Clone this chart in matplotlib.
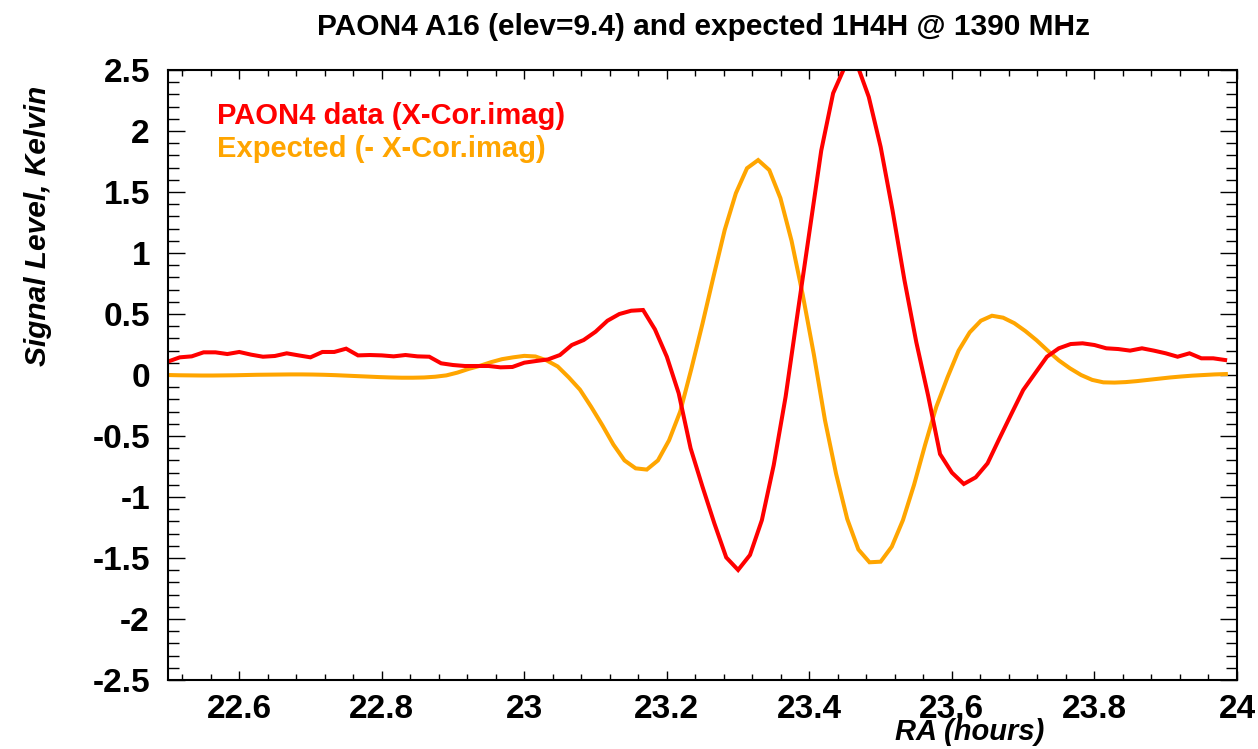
import numpy as np
import matplotlib
matplotlib.use("Agg")
import matplotlib.pyplot as plt
from matplotlib.ticker import MultipleLocator

plt.rcParams['font.family'] = ['Liberation Sans', 'DejaVu Sans']

# RA sampling (hours)
ra_start = 22.5
data_step = 1.0 / 60.0     # measured data: one sample per minute
model_step = 1.0 / 64.0    # expected signal grid

# PAON4 measured cross-correlation (imaginary part), Kelvin
paon4_imag = [
    0.11, 0.145, 0.153, 0.186, 0.186, 0.172, 0.189, 0.167, 0.15, 0.156,
    0.178, 0.161, 0.145, 0.189, 0.189, 0.216, 0.161, 0.164, 0.161, 0.153,
    0.164, 0.153, 0.15, 0.096, 0.082, 0.074, 0.074, 0.074, 0.063, 0.066,
    0.101, 0.115, 0.128, 0.164, 0.246, 0.287, 0.355, 0.445, 0.5, 0.527,
    0.533, 0.374, 0.15, -0.15, -0.6, -0.915, -1.216, -1.495, -1.598, -1.475,
    -1.19, -0.738, -0.178, 0.5, 1.17, 1.84, 2.31, 2.53, 2.55, 2.28,
    1.87, 1.35, 0.78, 0.27, -0.17, -0.648, -0.8, -0.893, -0.839, -0.724,
    -0.52, -0.32, -0.123, 0.014, 0.15, 0.219, 0.254, 0.26, 0.246, 0.219,
    0.213, 0.2, 0.219, 0.2, 0.178, 0.15, 0.178, 0.137, 0.137, 0.123,
]

# Expected signal (- X-Cor.imag), Kelvin
expected_imag = [
    0.0, -0.002, -0.003, -0.004, -0.004, -0.003, -0.002, 0.0, 0.002, 0.003,
    0.004, 0.005, 0.005, 0.004, 0.002, -0.001, -0.005, -0.009, -0.013, -0.017,
    -0.02, -0.022, -0.022, -0.02, -0.014, -0.003, 0.02, 0.05, 0.075, 0.105,
    0.13, 0.145, 0.157, 0.152, 0.12, 0.07, -0.02, -0.12, -0.26, -0.41,
    -0.57, -0.70, -0.765, -0.775, -0.70, -0.535, -0.3, 0.05, 0.42, 0.81,
    1.19, 1.49, 1.695, 1.762, 1.68, 1.45, 1.1, 0.66, 0.17, -0.37,
    -0.81, -1.18, -1.43, -1.535, -1.53, -1.407, -1.19, -0.9, -0.57, -0.26,
    -0.02, 0.2, 0.35, 0.445, 0.486, 0.47, 0.425, 0.36, 0.285, 0.2,
    0.12, 0.055, 0.0, -0.04, -0.06, -0.062, -0.058, -0.05, -0.04, -0.03,
    -0.02, -0.012, -0.005, 0.0, 0.005, 0.008,
]

ra_data = ra_start + data_step * np.arange(len(paon4_imag))
ra_model = ra_start + model_step * np.arange(len(expected_imag))

x_ticks = [22.6, 22.8, 23.0, 23.2, 23.4, 23.6, 23.8, 24.0]
x_tick_labels = ["22.6", "22.8", "23", "23.2", "23.4", "23.6", "23.8", "24"]
y_ticks = [-2.5, -2, -1.5, -1, -0.5, 0, 0.5, 1, 1.5, 2, 2.5]
y_tick_labels = ["-2.5", "-2", "-1.5", "-1", "-0.5", "0", "0.5", "1", "1.5", "2", "2.5"]

fig = plt.figure(figsize=(12.58, 7.49), dpi=100)
ax = fig.add_axes([0.1335, 0.0921, 0.8498, 0.8144])

red = "#ff0000"
orange = "#ffa500"
ax.plot(ra_model, expected_imag, color=orange, lw=2.9, solid_joinstyle='miter')
ax.plot(ra_data, paon4_imag, color=red, lw=2.9, solid_joinstyle='miter')

ax.set_xlim(22.5, 24.0)
ax.set_ylim(-2.5, 2.5)
ax.set_xticks(x_ticks)
ax.set_xticklabels(x_tick_labels)
ax.set_yticks(y_ticks)
ax.set_yticklabels(y_tick_labels)
ax.xaxis.set_minor_locator(MultipleLocator(0.04))
ax.yaxis.set_minor_locator(MultipleLocator(0.1))

for lab in ax.get_xticklabels() + ax.get_yticklabels():
    lab.set_fontweight('bold')
    lab.set_fontsize(24)

ax.tick_params(axis='x', which='major', direction='in', length=6.5, width=1.0,
               top=True, pad=10)
ax.tick_params(axis='x', which='minor', direction='in', length=4.3, width=1.0,
               top=True)
ax.tick_params(axis='y', which='major', direction='in', length=12, width=1.0,
               right=True, pad=13)
ax.tick_params(axis='y', which='minor', direction='in', length=8, width=1.0,
               right=True)
for sp in ax.spines.values():
    sp.set_linewidth(1.5)

fig.text(0.559, 0.953, "PAON4 A16 (elev=9.4) and expected 1H4H @ 1390 MHz",
         ha='center', va='baseline', fontsize=21.5, fontweight='bold')
fig.text(0.771, 0.004, "RA (hours)", ha='center', va='bottom',
         fontsize=21, fontweight='bold', fontstyle='italic')
fig.text(0.030, 0.698, "Signal Level, Kelvin", ha='center', va='center',
         rotation=90, fontsize=21.5, fontweight='bold', fontstyle='italic')

ax.text(0.0458, 0.9115, "PAON4 data (X-Cor.imag)", transform=ax.transAxes,
        color=red, fontsize=21, fontweight='bold', va='baseline', ha='left')
ax.text(0.0458, 0.857, "Expected (- X-Cor.imag)", transform=ax.transAxes,
        color=orange, fontsize=21, fontweight='bold', va='baseline', ha='left')

fig.savefig("out.png", dpi=100)
